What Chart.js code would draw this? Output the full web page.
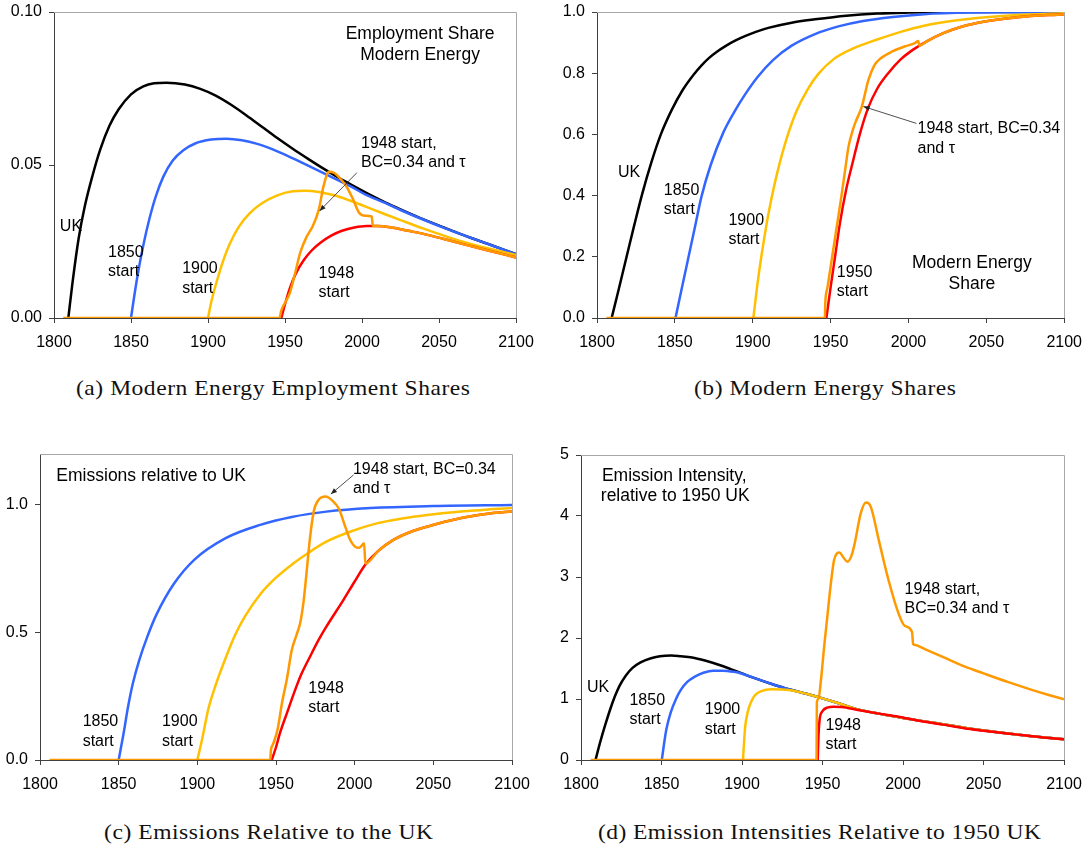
<!DOCTYPE html>
<html>
<head>
<meta charset="utf-8">
<script src="https://cdn.jsdelivr.net/npm/chart.js@4.4.0/dist/chart.umd.min.js"></script>
<style>
  body { margin:0; background:#fff; width:1092px; height:852px; position:relative; overflow:hidden; }
  canvas { position:absolute; }
  .cap { position:absolute; font-family:'Liberation Serif', 'Times New Roman', serif; font-size:21px; line-height:24px; color:#111; white-space:nowrap; transform-origin:left center; }
</style>
</head>
<body>
<script>
// ---- shared ticks ----
const xTicks = [1800, 1850, 1900, 1950, 2000, 2050, 2100];
const aYTicks = [0, 0.05, 0.1];
const bYTicks = [0, 0.2, 0.4, 0.6, 0.8, 1];
const cYTicks = [0, 0.5, 1];
const dYTicks = [0, 1, 2, 3, 4, 5];

// ---- (a) employment share, modern energy ----
const aUKx = [1809.3,1812,1816,1820,1825,1830,1836,1842,1850,1858,1865,1873,1885,1895,1905,1915,1925,1935,1945,1955,1965,1975,1985,1995,2005,2015,2025,2040,2055,2070,2085,2100];
const aUK  = [0,0.0115,0.026,0.0365,0.0465,0.055,0.0628,0.0682,0.0731,0.0757,0.0767,0.0769,0.0763,0.0749,0.0727,0.0697,0.0662,0.0625,0.0588,0.0553,0.052,0.0488,0.0458,0.043,0.0403,0.0378,0.0355,0.0322,0.0292,0.0263,0.0236,0.0209];
const a1850x = [1850,1852,1855,1858,1862,1866,1871,1877,1884,1892,1902,1912,1922,1932,1942,1952,1962,1972,1982,1992,2002,2015,2025,2040,2055,2070,2085,2100];
const a1850  = [0,0.0068,0.016,0.0238,0.0325,0.0396,0.0462,0.0514,0.0548,0.0571,0.0583,0.0586,0.0581,0.0569,0.0551,0.0529,0.0505,0.0481,0.0456,0.0432,0.0404,0.0376,0.0353,0.0321,0.0291,0.0263,0.0236,0.0208];
const a1900x = [1900,1902,1906,1910,1914,1920,1927,1935,1945,1955,1963,1972,1982,1992,2002,2015,2025,2040,2055,2070,2085,2100];
const a1900  = [0,0.005,0.0125,0.0189,0.0241,0.0298,0.0342,0.0375,0.0401,0.0414,0.0416,0.0412,0.0401,0.0384,0.0365,0.0339,0.032,0.0292,0.0266,0.0243,0.0224,0.0206];
const a1948x = [1947.6,1950,1953,1957,1962,1967,1973,1980,1987,1995,2003,2010,2020,2030,2044,2060,2080,2100];
const a1948  = [0,0.0045,0.0095,0.0145,0.0188,0.0219,0.0246,0.0269,0.0285,0.0296,0.0301,0.0301,0.0295,0.0285,0.027,0.0249,0.0223,0.0198];
const aBCx = [1806,1946.4,1947.6,1950,1953,1956,1960,1964,1968,1972,1975,1978.5,1982,1986,1990,1994,1998,2002,2006.3,2007,2010,2020,2030,2044,2060,2080,2100];
const aBC  = [0,0,0.0025,0.005,0.008,0.0135,0.0215,0.0265,0.030,0.0355,0.043,0.0478,0.0474,0.0455,0.0429,0.039,0.0345,0.0334,0.0332,0.0301,0.0301,0.0295,0.0285,0.027,0.0249,0.0223,0.0198];

// ---- (b) modern energy share ----
const bUKx = [1809.4,1814,1819,1824,1829,1835,1841,1848,1855,1862,1867,1872,1877,1883,1889,1895,1902,1910,1925,1940,1960,1980,2000,2030,2100];
const bUK  = [0,0.095,0.2,0.305,0.405,0.51,0.6,0.68,0.745,0.795,0.825,0.85,0.87,0.89,0.907,0.921,0.935,0.948,0.965,0.976,0.988,0.995,0.998,1.0,1.0];
const b1850x = [1850.4,1855,1859,1863,1867,1873,1881,1888,1895,1903,1913,1925,1940,1955,1970,1990,2010,2040,2100];
const b1850  = [0,0.11,0.205,0.3,0.395,0.5,0.605,0.672,0.73,0.787,0.843,0.89,0.928,0.953,0.97,0.984,0.993,0.998,1.0];
const b1900x = [1900.4,1903,1905.5,1909,1912,1916,1922,1928,1935,1942,1952,1965,1980,1995,2010,2030,2060,2100];
const b1900  = [0,0.11,0.2,0.31,0.39,0.48,0.59,0.675,0.745,0.797,0.846,0.882,0.91,0.935,0.955,0.972,0.987,0.996];
const b1950x = [1947.3,1950,1953,1956,1960,1964,1969,1974,1980,1987,1995,2003,2012,2022,2034,2050,2070,2100];
const b1950  = [0,0.1,0.205,0.31,0.42,0.505,0.605,0.685,0.75,0.8,0.845,0.877,0.905,0.93,0.952,0.97,0.983,0.993];
const bBCx = [1806,1946.3,1946.6,1948,1951,1954,1957,1959.5,1961.5,1964,1966,1970,1974.3,1978,1982,1990,1998,2004,2006.3,2007,2012,2022,2034,2050,2070,2100];
const bBC  = [0,0,0.05,0.1,0.2,0.3,0.4,0.49,0.56,0.61,0.64,0.69,0.778,0.825,0.848,0.872,0.888,0.898,0.905,0.89,0.905,0.93,0.952,0.97,0.983,0.993];

// ---- (c) emissions relative to UK ----
const c1850x = [1850,1853,1856,1859,1863,1868,1874,1885,1898,1918,1940,1960,1982,2010,2050,2100];
const c1850  = [0,0.1,0.21,0.3,0.39,0.48,0.57,0.69,0.785,0.87,0.922,0.953,0.974,0.988,0.996,1.0];
const c1900x = [1900,1903,1907,1912,1918,1924,1930,1940,1950,1961,1970,1982,1997,2014,2030,2046,2066,2086,2100];
const c1900  = [0,0.08,0.2,0.3,0.4,0.49,0.56,0.65,0.715,0.771,0.81,0.856,0.895,0.928,0.947,0.961,0.974,0.983,0.988];
const c1948x = [1947.3,1950,1952.5,1957,1962,1966,1971.6,1977,1982,1992.8,2000,2006.6,2015,2024.6,2035,2046,2067,2086,2100];
const c1948  = [0,0.05,0.105,0.185,0.272,0.335,0.405,0.47,0.523,0.627,0.7,0.765,0.82,0.863,0.893,0.915,0.948,0.967,0.975];
const cBCx = [1806,1946.3,1946.8,1948,1951,1954,1957,1960,1963,1965.3,1967.5,1969.5,1971.6,1974,1977,1981.6,1986,1990,1994,1997,2000,2003,2006,2006.8,2015,2024.6,2035,2046,2067,2086,2100];
const cBC  = [0,0,0.04,0.06,0.12,0.23,0.32,0.43,0.49,0.535,0.62,0.74,0.87,0.975,1.02,1.033,1.016,0.985,0.915,0.865,0.838,0.832,0.85,0.77,0.82,0.863,0.893,0.915,0.948,0.967,0.975];

// ---- (d) emission intensity relative to 1950 UK ----
const dUKx = [1809,1812,1815,1818,1821,1824,1828,1832,1837,1843,1849,1856,1862,1869,1877,1886,1893,1900,1907,1918,1929,1940,1950,1960,1972,1985,2000,2020,2040,2060,2080,2100];
const dUK  = [0,0.3,0.57,0.82,1.04,1.22,1.39,1.51,1.6,1.665,1.7,1.712,1.7,1.68,1.63,1.557,1.49,1.42,1.35,1.25,1.16,1.085,1.01,0.93,0.83,0.76,0.69,0.605,0.52,0.45,0.39,0.34];
const d1850x = [1850.2,1851.5,1853,1855.6,1859,1862,1866,1871,1876,1882,1888,1895,1900,1907,1918,1929,1940,1950,1960,1972,1985,2000,2020,2040,2060,2080,2100];
const d1850  = [0,0.25,0.5,0.77,1.0,1.15,1.28,1.37,1.43,1.465,1.465,1.445,1.415,1.35,1.25,1.16,1.085,1.01,0.93,0.83,0.76,0.69,0.605,0.52,0.45,0.39,0.34];
const d1900x = [1900.6,1901.3,1902,1903.5,1905.3,1908,1912,1918,1925,1932,1940,1950,1960,1972,1985,2000,2020,2040,2060,2080,2100];
const d1900  = [0,0.3,0.55,0.78,0.93,1.06,1.13,1.16,1.155,1.135,1.085,1.01,0.93,0.83,0.76,0.69,0.605,0.52,0.45,0.39,0.34];
const d1948x = [1947,1947.6,1948.3,1950,1953,1957,1962,1972,1985,1997,2010,2025,2038,2050,2070,2087,2100];
const d1948  = [0,0.45,0.68,0.8,0.86,0.874,0.87,0.82,0.76,0.71,0.645,0.58,0.52,0.48,0.42,0.37,0.34];
const dBCx = [1806,1946.3,1946.5,1947.5,1949,1951,1953,1955,1957.2,1960.5,1963,1965.5,1968,1970,1973.7,1977,1980,1985,1991,1997,2001,2005.6,2006.3,2007,2015,2025,2038.5,2050,2065,2080,2090,2100];
const dBC  = [0,0,0.95,1.0,1.3,1.85,2.35,2.85,3.28,3.4,3.32,3.25,3.35,3.55,4.04,4.22,4.15,3.6,2.95,2.42,2.2,2.1,1.9,1.89,1.8,1.685,1.53,1.42,1.28,1.15,1.07,0.995];

// ---- text on the plots (data coordinates) ----
const aNotes = [
  {t:'Employment Share', x:2037.7, y:0.0927, a:'center', big:true},
  {t:'Modern Energy', x:2037.7, y:0.0859, a:'center', big:true},
  {t:'1948 start,', x:1999.4, y:0.0570},
  {t:'BC=0.34 and \u03c4', x:1999.4, y:0.0507},
  {t:'UK', x:1803.8, y:0.0298},
  {t:'1850', x:1835.1, y:0.0213}, {t:'start', x:1835.1, y:0.0151},
  {t:'1900', x:1883.2, y:0.0162}, {t:'start', x:1883.2, y:0.0097},
  {t:'1948', x:1971.8, y:0.0146}, {t:'start', x:1971.8, y:0.0083}
];
const aArrows = [{x1:1996.7, y1:0.0475, x2:1972.5, y2:0.035}];

const bNotes = [
  {t:'UK', x:1813.5, y:0.475},
  {t:'1850', x:1842.9, y:0.415}, {t:'start', x:1842.9, y:0.353},
  {t:'1900', x:1884.4, y:0.317}, {t:'start', x:1884.4, y:0.255},
  {t:'1950', x:1954.0, y:0.148}, {t:'start', x:1954.0, y:0.085},
  {t:'Modern Energy', x:2040.7, y:0.179, a:'center', big:true},
  {t:'Share', x:2040.7, y:0.111, a:'center', big:true},
  {t:'1948 start, BC=0.34', x:2005.8, y:0.619},
  {t:'and \u03c4', x:2005.8, y:0.553}
];
const bArrows = [{x1:2005.1, y1:0.636, x2:1971.1, y2:0.691}];

const cNotes = [
  {t:'Emissions relative to UK', x:1810.4, y:1.114, big:true},
  {t:'1948 start, BC=0.34', x:1998.9, y:1.140},
  {t:'and \u03c4', x:1998.9, y:1.063},
  {t:'1948', x:1970.5, y:0.281}, {t:'start', x:1970.5, y:0.207},
  {t:'1850', x:1827.1, y:0.150}, {t:'start', x:1827.1, y:0.072},
  {t:'1900', x:1877.5, y:0.150}, {t:'start', x:1877.5, y:0.072}
];
const cArrows = [{x1:1999.3, y1:1.118, x2:1984.9, y2:1.043}];

const dNotes = [
  {t:'Emission Intensity,', x:1813.0, y:4.656, big:true},
  {t:'relative to 1950 UK', x:1812.3, y:4.317, big:true},
  {t:'UK', x:1803.7, y:1.191},
  {t:'1850', x:1830.1, y:0.973}, {t:'start', x:1830.1, y:0.656},
  {t:'1900', x:1876.8, y:0.831}, {t:'start', x:1876.8, y:0.503},
  {t:'1948', x:1951.8, y:0.563}, {t:'start', x:1951.8, y:0.246},
  {t:'1948 start,', x:2001.0, y:2.787},
  {t:'BC=0.34 and \u03c4', x:2001.0, y:2.475}
];

const captions = [
  {t:'(a) Modern Energy Employment Shares', cx:273, cy:388, w:394},
  {t:'(b) Modern Energy Shares', cx:825, cy:388, w:262},
  {t:'(c) Emissions Relative to the UK', cx:268, cy:832, w:329},
  {t:'(d) Emission Intensities Relative to 1950 UK', cx:819, cy:832, w:443}
];

// ---- styles ----
const BLACK = '#000000', BLUE = '#3366ff', YELLOW = '#ffc000', RED = '#ff0000', ORANGE = '#ff9900';
const SANS = "'Liberation Sans', Arial, sans-serif";
const AXIS = '#404040';

function pts(xs, ys){ return xs.map((x,i)=>({x:x, y:ys[i]})); }

// first listed is drawn on top
const panels = [
  {id:'a', left:0, top:-10, w:546, h:370, yW:54, padTop:22, padRight:30, xH:42,
   yMax:0.1, yTicks:aYTicks, fmt:v=>v.toFixed(2), notes:aNotes, arrows:aArrows,
   series:[[aBCx,aBC,ORANGE],[a1948x,a1948,RED],[a1900x,a1900,YELLOW],[a1850x,a1850,BLUE],[aUKx,aUK,BLACK]]},
  {id:'b', left:546, top:-10, w:546, h:370, yW:51, padTop:22, padRight:25, xH:42,
   yMax:1, yTicks:bYTicks, fmt:v=>v.toFixed(1), notes:bNotes, arrows:bArrows,
   series:[[bBCx,bBC,ORANGE],[b1950x,b1950,RED],[b1900x,b1900,YELLOW],[b1850x,b1850,BLUE],[bUKx,bUK,BLACK]]},
  {id:'c', left:0, top:420, w:546, h:380, yW:40, padTop:34, padRight:34, xH:40,
   yMax:1.2, yTicks:cYTicks, fmt:v=>v.toFixed(1), notes:cNotes, arrows:cArrows,
   series:[[cBCx,cBC,ORANGE],[c1948x,c1948,RED],[c1900x,c1900,YELLOW],[c1850x,c1850,BLUE]]},
  {id:'d', left:546, top:420, w:546, h:380, yW:35, padTop:35, padRight:28, xH:40,
   yMax:5, yTicks:dYTicks, fmt:v=>String(v), notes:dNotes, arrows:[],
   series:[[dBCx,dBC,ORANGE],[d1948x,d1948,RED],[d1900x,d1900,YELLOW],[d1850x,d1850,BLUE],[dUKx,dUK,BLACK]]}
];

function makeDeco(p){
  return {
    id:'deco_'+p.id,
    beforeDatasetsDraw(chart){
      const {ctx, chartArea:ar} = chart;
      ctx.save();
      ctx.strokeStyle = '#a8a8a8'; ctx.lineWidth = 1;
      ctx.beginPath();
      ctx.moveTo(ar.left, Math.round(ar.top)+0.5);
      ctx.lineTo(Math.round(ar.right)+0.5, Math.round(ar.top)+0.5);
      ctx.lineTo(Math.round(ar.right)+0.5, ar.bottom);
      ctx.stroke();
      ctx.restore();
    },
    afterDatasetsDraw(chart){
      const {ctx} = chart, sx = chart.scales.x, sy = chart.scales.y;
      ctx.save();
      ctx.fillStyle = '#000'; ctx.textBaseline = 'middle';
      p.notes.forEach(n=>{
        ctx.font = (n.big ? '17.5px ' : '16px ') + SANS;
        ctx.textAlign = n.a || 'left';
        ctx.fillText(n.t, sx.getPixelForValue(n.x), sy.getPixelForValue(n.y));
      });
      p.arrows.forEach(r=>{
        const x1 = sx.getPixelForValue(r.x1), y1 = sy.getPixelForValue(r.y1);
        const x2 = sx.getPixelForValue(r.x2), y2 = sy.getPixelForValue(r.y2);
        const ang = Math.atan2(y2-y1, x2-x1);
        ctx.strokeStyle = '#222'; ctx.lineWidth = 0.8;
        ctx.beginPath(); ctx.moveTo(x1,y1); ctx.lineTo(x2,y2); ctx.stroke();
        ctx.beginPath();
        ctx.moveTo(x2,y2);
        ctx.lineTo(x2 - 6*Math.cos(ang) + 2.5*Math.sin(ang), y2 - 6*Math.sin(ang) - 2.5*Math.cos(ang));
        ctx.lineTo(x2 - 6*Math.cos(ang) - 2.5*Math.sin(ang), y2 - 6*Math.sin(ang) + 2.5*Math.cos(ang));
        ctx.closePath(); ctx.fillStyle = '#222'; ctx.fill();
      });
      ctx.restore();
    }
  };
}

panels.forEach(p=>{
  const cv = document.createElement('canvas');
  cv.width = p.w; cv.height = p.h;
  cv.style.left = p.left + 'px'; cv.style.top = p.top + 'px';
  cv.style.width = p.w + 'px'; cv.style.height = p.h + 'px';
  document.body.appendChild(cv);
  new Chart(cv.getContext('2d'), {
    type:'line',
    data:{ datasets: p.series.map(s=>({ data:pts(s[0], s[1]), borderColor:s[2], borderWidth:2.5, pointRadius:0, fill:false, cubicInterpolationMode:'monotone' })) },
    options:{
      animation:false, responsive:false, devicePixelRatio:1,
      layout:{ padding:{ top:p.padTop, right:p.padRight, left:0, bottom:0 } },
      plugins:{ legend:{display:false}, tooltip:{enabled:false} },
      scales:{
        x:{ type:'linear', min:1800, max:2100,
            afterBuildTicks: s=>{ s.ticks = xTicks.map(v=>({value:v})); },
            afterFit: s=>{ s.height = p.xH; },
            ticks:{ callback:v=>String(v), color:'#000', padding:10, maxRotation:0, autoSkip:false, font:{family:SANS, size:16} },
            grid:{ drawOnChartArea:false, tickLength:5, color:AXIS },
            border:{ color:AXIS, width:1 } },
        y:{ type:'linear', min:0, max:p.yMax,
            afterBuildTicks: s=>{ s.ticks = p.yTicks.map(v=>({value:v})); },
            afterFit: s=>{ s.width = p.yW; },
            ticks:{ callback:p.fmt, color:'#000', padding:7, autoSkip:false, font:{family:SANS, size:16} },
            grid:{ drawOnChartArea:false, tickLength:5, color:AXIS },
            border:{ color:AXIS, width:1 } }
      }
    },
    plugins:[makeDeco(p)]
  });
});

// ---- captions, widened to the original's width ----
captions.forEach(c=>{
  const d = document.createElement('div');
  d.className = 'cap'; d.textContent = c.t;
  document.body.appendChild(d);
  const w0 = d.getBoundingClientRect().width;
  const s = Math.min(c.w / w0, 1.12);
  const rest = c.w - w0 * s;
  d.style.letterSpacing = (rest / s / (c.t.length - 1)) + 'px';
  d.style.transform = 'scaleX(' + s + ')';
  d.style.left = (c.cx - c.w/2) + 'px';
  d.style.top = (c.cy - 12) + 'px';
});
</script>
</body>
</html>
